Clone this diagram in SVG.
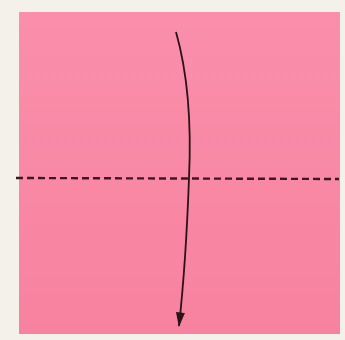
<svg xmlns="http://www.w3.org/2000/svg" width="345" height="340" viewBox="0 0 345 340">
<defs>
<linearGradient id="paper" x1="0" y1="0" x2="0" y2="1">
<stop offset="0" stop-color="#fa8fab"/>
<stop offset="1" stop-color="#f7829f"/>
</linearGradient>
<marker id="ah" viewBox="0 0 16 10" refX="15" refY="5" markerWidth="15" markerHeight="9" markerUnits="userSpaceOnUse" orient="auto">
<path d="M0,0 L16,5 L0,10 Z" fill="#2a1218"/>
</marker>
<style>
.fold{stroke:#3a1a22;stroke-width:2.4;stroke-dasharray:7 4;fill:none}
.arrow{stroke:#2a1218;stroke-width:1.8;fill:none}
</style>
</defs>
<rect width="345" height="340" fill="#f3f1ea"/>
<g id="paper-square">
<rect x="19" y="12" width="321" height="322" fill="url(#paper)"/>
</g>
<g id="connectors">
<line class="fold" x1="16" y1="178" x2="339" y2="179"/>
<path class="arrow" d="M176,32 Q193,92 189,178 Q186,262 179,326" marker-end="url(#ah)"/>
</g>
</svg>
